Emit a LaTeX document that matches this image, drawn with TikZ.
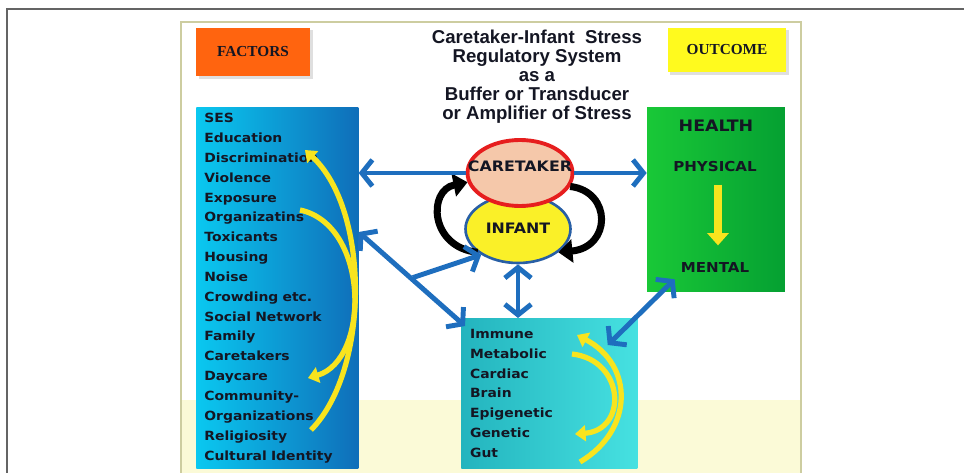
\documentclass[tikz,border=0pt]{standalone}
\usepackage{fontspec}
\setmainfont{Liberation Sans}
\newfontfamily\widesans[FakeStretch=1.1]{DejaVu Sans}
\newfontfamily\tagserif{Liberation Serif}
\usetikzlibrary{arrows.meta, positioning, calc, shapes.geometric, shadows}

\definecolor{ink}{RGB}{20,22,35}
\definecolor{framegray}{RGB}{100,100,100}
\definecolor{slideedge}{RGB}{205,205,160}
\definecolor{stripyellow}{RGB}{251,250,215}
\definecolor{factorsorange}{RGB}{255,100,15}
\definecolor{outcomeyellow}{RGB}{255,250,30}
\definecolor{sescyan}{RGB}{10,200,240}
\definecolor{sesblue}{RGB}{15,110,185}
\definecolor{healthlight}{RGB}{25,200,55}
\definecolor{healthdark}{RGB}{5,160,50}
\definecolor{bioteal}{RGB}{35,180,190}
\definecolor{biocyan}{RGB}{70,225,225}
\definecolor{linkblue}{RGB}{30,110,190}
\definecolor{arcyellow}{RGB}{248,228,30}
\definecolor{carered}{RGB}{230,30,30}
\definecolor{carepeach}{RGB}{245,200,170}
\definecolor{infyellow}{RGB}{250,240,40}
\definecolor{infblue}{RGB}{40,95,165}

\begin{document}
\begin{tikzpicture}[
  x=0.02cm, y=-0.02cm,
  >={Straight Barb[length=6pt,width=15pt]},
  tagbox/.style={rectangle, text=ink, font=\tagserif\bfseries\fontsize{8.7}{10}\selectfont,
    drop shadow={opacity=0.25, shadow xshift=1.5pt, shadow yshift=-1.5pt}},
  listbox/.style={rectangle, anchor=north west, inner xsep=4.5pt, align=left, text=ink,
    font=\widesans\bfseries\fontsize{7.2}{11.3}\selectfont},
  healthtxt/.style={text=ink, font=\widesans\bfseries\fontsize{7.8}{9}\selectfont},
  pair/.style={ellipse, inner sep=0pt, minimum width=2.1cm},
  pairtxt/.style={text=ink, font=\widesans\bfseries\fontsize{8.2}{9}\selectfont},
  link/.style={draw=linkblue, line width=2.8pt},
  cyclearc/.style={black, line width=4pt, -{Triangle[length=8pt,width=13pt]}},
  turnarc/.style={draw=arcyellow, line width=3pt, -{Triangle[length=6pt,width=9pt]}}
]

% Page and slide frame
\useasboundingbox (0,0) rectangle (964,473);
\fill[white] (0,0) rectangle (964,473);
\fill[stripyellow] (182,400) rectangle (800,473);
\draw[framegray, line width=1pt] (7,473) -- (7,9) -- (964,9);
\draw[slideedge, line width=0.8pt] (181,473) -- (181,22) -- (801,22) -- (801,473);

% Header tags and title
\node[tagbox, fill=factorsorange, minimum width=2.28cm, minimum height=0.98cm] (factors) at (253,52) {FACTORS};
\node[tagbox, fill=outcomeyellow, minimum width=2.38cm, minimum height=0.9cm] (outcome) at (727,50) {OUTCOME};
\node[align=center, text=ink, font=\bfseries\fontsize{10.6}{10.8}\selectfont] (title) at (537,77)
  {Caretaker-Infant~ Stress\\Regulatory System\\as a\\Buffer or Transducer\\or Amplifier of Stress};

% Factors column
\node[listbox, left color=sescyan, right color=sesblue, minimum width=3.24cm, minimum height=7.22cm,
  text width=2.92cm] (ses) at (196,107)
  {SES\\Education\\Discrimination\\Violence\\Exposure\\Organizatins\\Toxicants\\Housing\\Noise\\Crowding etc.\\Social Network\\Family\\Caretakers\\Daycare\\Community-\\Organizations\\Religiosity\\Cultural Identity};
\draw[turnarc] (311,430) .. controls (370,370) and (370,210) .. (305,150);
\draw[turnarc] (300,210) .. controls (370,225) and (370,360) .. (308,378);

% Body systems
\node[listbox, left color=bioteal, right color=biocyan, minimum width=3.52cm, minimum height=3cm,
  inner xsep=5pt, text width=3.17cm] (bio) at (461,318)
  {Immune\\Metabolic\\Cardiac\\Brain\\Epigenetic\\Genetic\\Gut};
\draw[turnarc] (580,462) .. controls (634,430) and (634,365) .. (577,335);
\draw[turnarc] (572,354) .. controls (625,360) and (628,430) .. (575,434);

% Health outcome
\node[rectangle, left color=healthlight, right color=healthdark, minimum width=2.76cm, minimum height=3.7cm] (health) at (716,199.5) {};
\node[healthtxt, font=\widesans\bfseries\fontsize{9}{10}\selectfont, below=4pt of health.north] (hl) {HEALTH};
\node[healthtxt] (phys) at (715,167) {PHYSICAL};
\node[healthtxt] (ment) at (715,268) {MENTAL};
\draw[draw=arcyellow, line width=5pt, -{Triangle[length=7pt,width=12pt]}]
  ([xshift=1.7pt,yshift=-3.5pt]phys.south) -- ([xshift=1.7pt,yshift=6.5pt]ment.north);

% Caretaker-infant pair
\node[pair, draw=infblue, line width=1.5pt, fill=infyellow, minimum width=2.1cm, minimum height=1.36cm] (inf) at (518,229) {};
\node[pair, draw=carered, line width=2.2pt, fill=carepeach, minimum height=1.32cm] (care) at (520,173) {};
\node[pairtxt] (caretxt) at (520,166) {CARETAKER};
\node[pairtxt] (inftxt) at (518,228) {INFANT};
\draw[cyclearc] (inf.210) .. controls +(-48,-5) and +(-40,8) .. (care.190);
\draw[cyclearc] (care.345) .. controls +(42,5) and +(53,-5) .. (inf.330);

% Blue links
\draw[link, <-] (ses.east |- care.west) -- (care.west);
\draw[link, ->] (care.east) -- (health.west |- care.east);
\draw[link, <->] (ses.east |- 0,232) -- ([shift={(4,8)}]bio.north west);
\coordinate (fork) at ($(ses.east |- 0,232)!0.53!(bio.north west)$);
\draw[link, ->] (fork) -- (inf.215);
\draw[link, <->] (inf.south) -- (bio.north -| inf.south);
\draw[link, <->] (ment.south west) -- ([shift={(-30,27)}]bio.north east);

\end{tikzpicture}
\end{document}
